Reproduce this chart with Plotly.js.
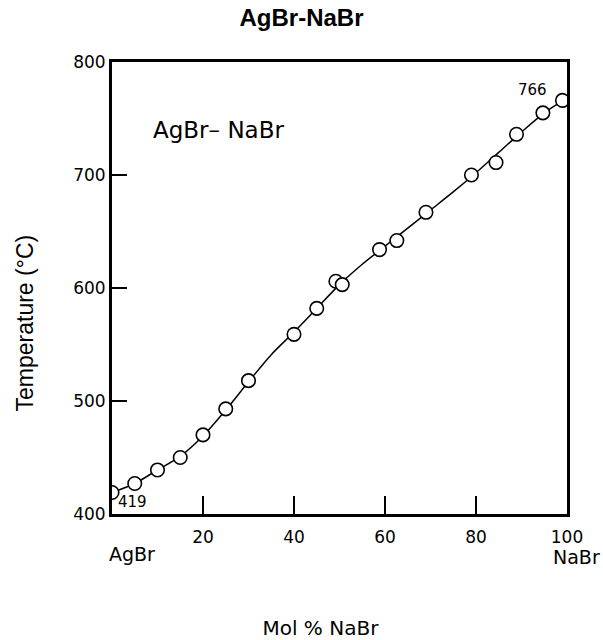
<!DOCTYPE html>
<html>
<head>
<meta charset="utf-8">
<script src="https://cdn.plot.ly/plotly-3.0.1.min.js"></script>
<style>html,body{margin:0;padding:0;background:#fff;}#chart{width:603px;height:640px;}</style>
</head>
<body>
<div id="chart"></div>
<script>
// Measured liquidus points (Mol % NaBr, Temperature °C)
const molPctNaBr = [0, 5, 10, 15, 20, 25, 30, 40, 45, 49.2, 50.6, 58.8, 62.6, 69, 79, 84.4, 88.9, 94.7, 99];
const temperatureC = [419, 427, 439, 450, 470, 493, 518, 559, 582, 606, 603, 634, 642, 667, 700, 711, 736, 755, 766];

// Smooth liquidus curve as drawn in the figure
const curveMol = [0, 5, 10, 15, 20, 25, 30, 35, 40, 45, 50, 55, 60, 65, 70, 75, 80, 85, 90, 95, 100];
const curveTemp = [419, 427, 439, 451, 469, 492, 517, 541, 561, 582, 603, 621, 637, 653, 669, 685, 702, 720, 738, 755, 768];

const xTickVals = [0, 20, 40, 60, 80, 100];
const xTickText = ["", "20", "40", "60", "80", "100"];
const yTickVals = [400, 500, 600, 700, 800];
const yTickText = ["400", "500", "600", "700", "800"];

const F = "DejaVu Sans, sans-serif";
const NB = "&nbsp;";

const traces = [
  {
    x: curveMol, y: curveTemp, mode: "lines", type: "scatter",
    line: {color: "#000", width: 1.5, shape: "spline", smoothing: 0.8},
    hoverinfo: "skip", showlegend: false
  },
  {
    x: molPctNaBr, y: temperatureC, mode: "markers", type: "scatter",
    marker: {symbol: "circle", size: 13.5, color: "#fff", line: {color: "#000", width: 1.6}},
    showlegend: false
  }
];

const layout = {
  width: 603, height: 640,
  margin: {l: 112, r: 36, t: 62, b: 126},
  paper_bgcolor: "#fff", plot_bgcolor: "#fff",
  showlegend: false,
  title: {
    text: "<b>AgBr-NaBr</b>",
    font: {family: "Liberation Sans, Arial, sans-serif", size: 24, color: "#000"},
    x: 0.5, xref: "container", xanchor: "center",
    y: 1 - 18/640, yref: "container", yanchor: "middle"
  },
  xaxis: {
    range: [0, 100], autorange: false,
    tickvals: xTickVals, ticktext: xTickText, tickmode: "array",
    ticks: "inside", ticklen: 18, tickwidth: 1.5, tickcolor: "#000",
    showline: true, linewidth: 3, linecolor: "#000", mirror: true,
    showgrid: false, zeroline: false,
    tickfont: {family: F, size: 17, color: "#000"},
    ticklabelstandoff: 6,
    title: {text: "Mol % NaBr" + NB.repeat(6), font: {family: F, size: 20, color: "#000"}, standoff: 78},
    automargin: false
  },
  yaxis: {
    range: [400, 800], autorange: false,
    tickvals: yTickVals, ticktext: yTickText, tickmode: "array",
    ticks: "inside", ticklen: 15, tickwidth: 1.5, tickcolor: "#000",
    showline: true, linewidth: 3, linecolor: "#000", mirror: true,
    showgrid: false, zeroline: false,
    tickfont: {family: F, size: 17, color: "#000"},
    title: {text: "Temperature (°C)" + NB.repeat(11), font: {family: "Liberation Sans, Arial, sans-serif", size: 23, color: "#000"}, standoff: 34},
    automargin: false
  },
  annotations: [
    {text: "AgBr– NaBr", x: 0.235, y: 0.849, xref: "paper", yref: "paper", xanchor: "center", yanchor: "middle",
     showarrow: false, font: {family: F, size: 23, color: "#000"}},
    {text: "419", x: 0.046, y: 0.027, xref: "paper", yref: "paper", xanchor: "center", yanchor: "middle",
     showarrow: false, font: {family: F, size: 15, color: "#000"}},
    {text: "766", x: 0.925, y: 0.937, xref: "paper", yref: "paper", xanchor: "center", yanchor: "middle",
     showarrow: false, font: {family: F, size: 15, color: "#000"}},
    {text: "AgBr", x: 0.0429, y: -0.088, xref: "paper", yref: "paper", xanchor: "center", yanchor: "middle",
     showarrow: false, font: {family: F, size: 19, color: "#000"}},
    {text: "NaBr", x: 1.02, y: -0.095, xref: "paper", yref: "paper", xanchor: "center", yanchor: "middle",
     showarrow: false, font: {family: F, size: 19, color: "#000"}}
  ]
};

Plotly.newPlot("chart", traces, layout, {displayModeBar: false, staticPlot: true});
</script>
</body>
</html>
